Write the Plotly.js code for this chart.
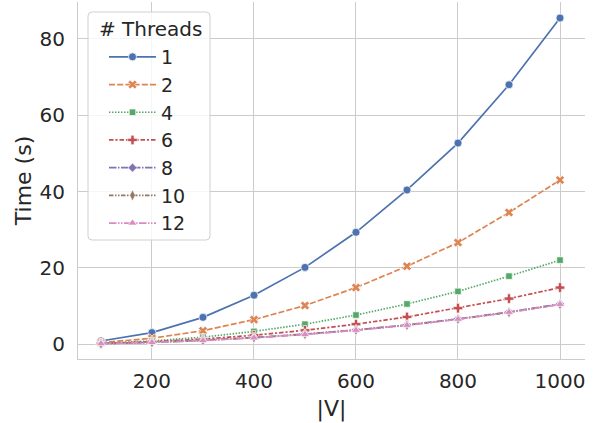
<!DOCTYPE html>
<html><head><meta charset="utf-8">
<script src="https://cdn.plot.ly/plotly-3.0.1.min.js"></script>
<style>body{margin:0;padding:0;background:#fff}#chart{width:602px;height:423px}</style>
</head><body><div id="chart"></div>
<script>
const vertices = [100, 200, 300, 400, 500, 600, 700, 800, 900, 1000];
const threadLabels = ["1", "2", "4", "6", "8", "10", "12"];
const legendTitle = "# Threads";
const t1  = [0.8, 3.0, 7.0, 12.8, 20.1, 29.3, 40.4, 52.7, 68.0, 85.5];
const t2  = [0.4, 1.5, 3.5, 6.4, 10.1, 14.8, 20.4, 26.6, 34.5, 43.0];
const t4  = [0.2, 0.8, 1.8, 3.3, 5.2, 7.6, 10.5, 13.8, 17.8, 22.0];
const t6  = [0.15, 0.6, 1.3, 2.3, 3.6, 5.2, 7.1, 9.4, 11.9, 14.8];
const t8  = [0.1, 0.45, 1.0, 1.7, 2.6, 3.7, 5.0, 6.6, 8.4, 10.5];
const t10 = [0.1, 0.42, 0.95, 1.65, 2.55, 3.65, 4.95, 6.5, 8.3, 10.4];
const t12 = [0.1, 0.4, 0.9, 1.6, 2.5, 3.6, 4.9, 6.5, 8.3, 10.4];
const series = [t1, t2, t4, t6, t8, t10, t12];

const colors = ["#4c72b0", "#dd8452", "#55a868", "#c44e52", "#8172b3", "#937860", "#da8bc3"];
const symbols = ["circle", "x", "square", "cross", "diamond", "diamond-tall", "triangle-up"];
const dashes = ["solid", "6px,2.2px", "1.5px,1.5px", "4.5px,1.9px,2.2px,1.9px", "7.5px,1.5px,1.5px,1.5px", "4.5px,1.5px,1.5px,1.5px,1.5px,1.5px", "7.5px,1.5px,1.5px,1.5px,1.5px,1.5px"];
const sizes = [8, 8, 6.5, 8, 7, 8, 8];

const traces = series.map((ys, i) => ({
  x: vertices, y: ys, type: "scatter", mode: "lines+markers",
  name: threadLabels[i],
  line: {color: colors[i], width: 1.7, dash: dashes[i]},
  marker: {symbol: symbols[i], size: sizes[i], color: colors[i], line: {color: "#ffffff", width: 0.7}}
}));

// pixel -> paper helpers for layout decoration
const M = {l: 78, r: 17, t: 2, b: 64}, W = 602, H = 423;
const pw = W - M.l - M.r, ph = H - M.t - M.b;
const px = v => (v - M.l) / pw;
const py = v => 1 - (v - M.t) / ph;
function roundRect(x0, y0, x1, y1, r) {
  const X = px, Y = py;
  return `M${X(x0 + r)},${Y(y0)} L${X(x1 - r)},${Y(y0)} Q${X(x1)},${Y(y0)} ${X(x1)},${Y(y0 + r)} ` +
         `L${X(x1)},${Y(y1 - r)} Q${X(x1)},${Y(y1)} ${X(x1 - r)},${Y(y1)} ` +
         `L${X(x0 + r)},${Y(y1)} Q${X(x0)},${Y(y1)} ${X(x0)},${Y(y1 - r)} ` +
         `L${X(x0)},${Y(y0 + r)} Q${X(x0)},${Y(y0)} ${X(x0 + r)},${Y(y0)} Z`;
}

const layout = {
  width: W, height: H,
  margin: M,
  paper_bgcolor: "#ffffff", plot_bgcolor: "#ffffff",
  font: {family: "DejaVu Sans", color: "#262626", size: 20},
  showlegend: true,
  xaxis: {
    range: [55, 1049], tickvals: [200, 400, 600, 800, 1000],
    showgrid: true, gridcolor: "#cccccc", gridwidth: 1,
    zeroline: false, showline: true, linecolor: "#cccccc", linewidth: 1,
    ticks: "", tickfont: {size: 20, color: "#262626"}, ticklabelstandoff: 4,
    title: {text: "|V|", font: {size: 22, color: "#262626"}, standoff: 8}
  },
  yaxis: {
    range: [-3.93, 89.7], tickvals: [0, 20, 40, 60, 80],
    showgrid: true, gridcolor: "#cccccc", gridwidth: 1,
    zeroline: false, showline: true, linecolor: "#cccccc", linewidth: 1,
    ticks: "", tickfont: {size: 20, color: "#262626"}, ticklabelstandoff: 8,
    title: {text: "Time (s)", font: {size: 22, color: "#262626"}, standoff: 1}
  },
  shapes: [{
    type: "path", xref: "paper", yref: "paper", layer: "above",
    path: roundRect(88, 12, 210, 240, 4),
    fillcolor: "rgba(255,255,255,0.8)", line: {color: "#d0d0d0", width: 1}
  }],
  annotations: [{
    text: legendTitle, xref: "paper", yref: "paper", x: px(150), y: py(29),
    xanchor: "center", yanchor: "middle", showarrow: false,
    font: {size: 20, color: "#262626"}
  }],
  legend: {
    x: px(104), y: py(38), xanchor: "left", yanchor: "top",
    bgcolor: "rgba(0,0,0,0)", borderwidth: 0,
    font: {size: 19, color: "#262626"}, itemwidth: 47
  }
};
Plotly.newPlot("chart", traces, layout, {displayModeBar: false, staticPlot: true});
</script></body></html>
